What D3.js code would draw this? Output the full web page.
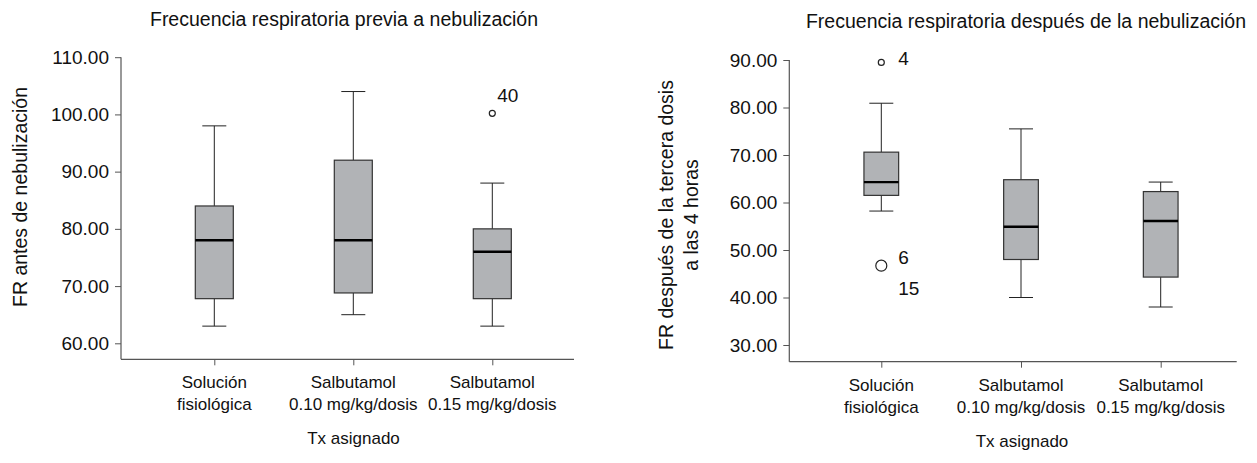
<!DOCTYPE html>
<html>
<head>
<meta charset="utf-8">
<script src="https://cdn.jsdelivr.net/npm/d3@7"></script>
<style>
  html, body { margin: 0; padding: 0; background: #fff; }
  svg { display: block; font-family: "Liberation Sans", Arial, Helvetica, sans-serif; }
</style>
</head>
<body>
<svg id="chart" width="1257" height="463"></svg>
<script>
// ---------- DATA ----------
const categories = ["Solución fisiológica", "Salbutamol 0.10 mg/kg/dosis", "Salbutamol 0.15 mg/kg/dosis"];
const categoryLines = [["Solución", "fisiológica"], ["Salbutamol", "0.10 mg/kg/dosis"], ["Salbutamol", "0.15 mg/kg/dosis"]];

const preTitle = "Frecuencia respiratoria previa a nebulización";
const preYLabel = ["FR antes de nebulización"];
const preTicks = [60, 70, 80, 90, 100, 110];
const preWhiskerLow  = [63, 65, 63];
const preQ1          = [67.8, 68.8, 67.8];
const preMedian      = [78, 78, 76];
const preQ3          = [84, 92, 80];
const preWhiskerHigh = [98, 104, 88];
const preOutlierCat   = [2];
const preOutlierValue = [100.2];
const preOutlierLabel = ["40"];

const postTitle = "Frecuencia respiratoria después de la nebulización";
const postYLabel = ["FR después de la tercera dosis", "a las 4 horas"];
const postTicks = [30, 40, 50, 60, 70, 80, 90];
const postWhiskerLow  = [58.2, 40, 38];
const postQ1          = [61.5, 48, 44.3];
const postMedian      = [64.3, 54.9, 56.1];
const postQ3          = [70.6, 64.8, 62.3];
const postWhiskerHigh = [80.9, 75.5, 64.3];
const postOutlierCat   = [0, 0, 0];
const postOutlierValue = [89.5, 46.7, 46.7];
const postOutlierLabel = ["4", "6", "15"];

const xTitle = "Tx asignado";

// ---------- DRAW ----------
const svg = d3.select("#chart");

function drawPanel(cfg) {
  const g = svg.append("g");
  const y = d3.scaleLinear().domain(cfg.yDomain).range(cfg.yRange);
  const x = d3.scalePoint().domain(categories).range(cfg.xRange);

  // y axis
  const yAxis = g.append("g")
    .attr("transform", `translate(${cfg.axisX},0)`)
    .call(d3.axisLeft(y).tickValues(cfg.ticks).tickFormat(d3.format(".2f")).tickSize(6).tickPadding(6).tickSizeOuter(0));
  yAxis.select(".domain").remove();
  yAxis.selectAll(".tick line").attr("stroke", "#555");
  yAxis.selectAll(".tick text").attr("fill", "#111").style("font-size", "19px");
  g.append("line")
    .attr("x1", cfg.axisX).attr("x2", cfg.axisX)
    .attr("y1", y(cfg.yDomain[1])).attr("y2", cfg.axisY)
    .attr("stroke", "#555").attr("stroke-width", 1.2);

  // x axis
  const xAxis = g.append("g")
    .attr("transform", `translate(0,${cfg.axisY})`)
    .call(d3.axisBottom(x).tickSize(6).tickSizeOuter(0).tickFormat(""));
  xAxis.select(".domain").remove();
  xAxis.selectAll(".tick line").attr("stroke", "#555");
  g.append("line")
    .attr("x1", cfg.axisX).attr("x2", cfg.axisEnd)
    .attr("y1", cfg.axisY).attr("y2", cfg.axisY)
    .attr("stroke", "#555").attr("stroke-width", 1.2);

  // category labels
  categories.forEach((c, i) => {
    categoryLines[i].forEach((line, j) => {
      g.append("text")
        .attr("x", x(c)).attr("y", cfg.axisY + 29 + j * 22)
        .attr("text-anchor", "middle").style("font-size", "17px").attr("fill", "#111")
        .text(line);
    });
  });

  // x title
  g.append("text")
    .attr("x", (cfg.axisX + cfg.axisEnd) / 2 + cfg.xTitleShift).attr("y", cfg.axisY + 85)
    .attr("text-anchor", "middle").style("font-size", "17px").attr("fill", "#111")
    .text(xTitle);

  // chart title
  g.append("text")
    .attr("x", cfg.titleX).attr("y", cfg.titleY)
    .attr("text-anchor", "middle").style("font-size", "19.5px").attr("fill", "#111")
    .text(cfg.title);

  // y title
  cfg.yLabel.forEach((line, j) => {
    g.append("text")
      .attr("transform", `translate(${cfg.yTitleX + j * 25},${cfg.yTitleY}) rotate(-90)`)
      .attr("text-anchor", "middle").style("font-size", "19.5px").attr("fill", "#111")
      .text(line);
  });

  // boxes
  const bw = cfg.boxWidth, cw = 24;
  categories.forEach((c, i) => {
    const cx = x(c);
    const bg = g.append("g");
    bg.append("line").attr("x1", cx).attr("x2", cx)
      .attr("y1", y(cfg.q3[i])).attr("y2", y(cfg.hi[i])).attr("stroke", "#222");
    bg.append("line").attr("x1", cx).attr("x2", cx)
      .attr("y1", y(cfg.q1[i])).attr("y2", y(cfg.lo[i])).attr("stroke", "#222");
    bg.append("line").attr("x1", cx - cw / 2).attr("x2", cx + cw / 2)
      .attr("y1", y(cfg.hi[i])).attr("y2", y(cfg.hi[i])).attr("stroke", "#222");
    bg.append("line").attr("x1", cx - cw / 2).attr("x2", cx + cw / 2)
      .attr("y1", y(cfg.lo[i])).attr("y2", y(cfg.lo[i])).attr("stroke", "#222");
    bg.append("rect")
      .attr("x", cx - bw / 2).attr("width", bw)
      .attr("y", y(cfg.q3[i])).attr("height", y(cfg.q1[i]) - y(cfg.q3[i]))
      .attr("fill", "#b1b3b6").attr("stroke", "#333").attr("stroke-width", 1.2);
    bg.append("line").attr("x1", cx - bw / 2).attr("x2", cx + bw / 2)
      .attr("y1", y(cfg.med[i])).attr("y2", y(cfg.med[i]))
      .attr("stroke", "#000").attr("stroke-width", 2.4);
  });

  // outliers (coincident values drawn as a larger circle)
  const groups = d3.groups(cfg.outCat.map((c, i) => ({ c, v: cfg.outVal[i], label: cfg.outLabel[i] })), d => d.c + "|" + d.v);
  groups.forEach(([key, pts]) => {
    const p = pts[0];
    const cx = x(categories[p.c]), cy = y(p.v);
    g.append("circle").attr("cx", cx).attr("cy", cy)
      .attr("r", 3 + 2.5 * (pts.length - 1))
      .attr("fill", "#fff").attr("stroke", "#222").attr("stroke-width", 1.2);
    pts.forEach((q, k) => {
      g.append("text")
        .attr("x", cx + cfg.labelDx)
        .attr("y", cy + cfg.labelDy - 5 * (pts.length - 1) + k * 31)
        .style("font-size", "19px").attr("fill", "#111")
        .text(q.label);
    });
  });
}

drawPanel({
  yDomain: [60, 110], yRange: [343.3, 57.2], ticks: preTicks,
  xRange: [214.3, 492.3], axisX: 121, axisY: 359.3, axisEnd: 574,
  boxWidth: 38, title: preTitle, titleX: 344, titleY: 26,
  yLabel: preYLabel, yTitleX: 27, yTitleY: 197, xTitleShift: 6,
  q1: preQ1, q3: preQ3, med: preMedian, lo: preWhiskerLow, hi: preWhiskerHigh,
  outCat: preOutlierCat, outVal: preOutlierValue, outLabel: preOutlierLabel,
  labelDx: 5, labelDy: -11
});

drawPanel({
  yDomain: [30, 90], yRange: [345, 60], ticks: postTicks,
  xRange: [881.3, 1160.7], axisX: 789.3, axisY: 361.7, axisEnd: 1236.7,
  boxWidth: 34.7, title: postTitle, titleX: 1026, titleY: 28,
  yLabel: postYLabel, yTitleX: 673, yTitleY: 215, xTitleShift: 9,
  q1: postQ1, q3: postQ3, med: postMedian, lo: postWhiskerLow, hi: postWhiskerHigh,
  outCat: postOutlierCat, outVal: postOutlierValue, outLabel: postOutlierLabel,
  labelDx: 17, labelDy: 3
});
</script>
</body>
</html>
